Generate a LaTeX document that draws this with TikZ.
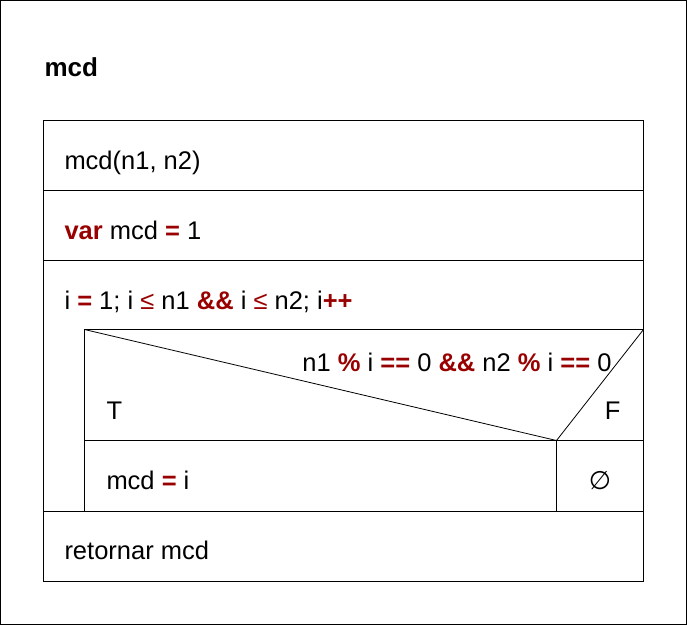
\documentclass[tikz,border=0pt]{standalone}
\usepackage{fontspec}
\setmainfont{Liberation Sans}
\newfontfamily\symfont{DejaVu Sans}
\usetikzlibrary{positioning}
\definecolor{nsred}{RGB}{153,0,0}
\newcommand{\kw}[1]{\textcolor{nsred}{\textbf{#1}}}
\newcommand{\op}[1]{\textcolor{nsred}{#1}}

\begin{document}
\begin{tikzpicture}[x=1pt,y=-1pt,line width=1pt,
    t/.style={inner sep=0pt,font=\fontsize{25.5}{30}\selectfont},
    l/.style={t,anchor=base west},
    r/.style={t,anchor=base east}]
  % frame and title
  \draw (0.5,0.5) rectangle (686.5,624.5);
  \node[l,font=\fontsize{26}{30}\selectfont\bfseries] (title) at (44,76) {mcd};
  % outer block
  \draw (43.5,120.5) rectangle (643.5,581.5);
  \draw (43.5,190.5) -- (643.5,190.5);
  \draw (43.5,260.5) -- (643.5,260.5);
  \draw (43.5,511.5) -- (643.5,511.5);
  \node[l] (head) at (64,169) {mcd(n1, n2)};
  \node[l] (decl) at (64,239) {\kw{var} mcd \kw{=} 1};
  \node[l] (loop) at (64,309)
    {i \kw{=} 1; i \op{≤} n1 \kw{\&\&} i \op{≤} n2; i\kw{++}};
  % loop body with the if block
  \draw (84.5,511.5) -- (84.5,329.5) -- (643.5,329.5);
  \draw (84.5,440.5) -- (643.5,440.5);
  \draw (556.5,440.5) -- (556.5,511.5);
  \draw[line width=0.8pt] (84.5,329.5) -- (556.5,440.5) -- (643.5,329.5);
  \node[r] (cond) at (612,371)
    {n1 \kw{\%} i \kw{==} 0 \kw{\&\&} n2 \kw{\%} i \kw{==} 0};
  \node[l] (yes) at (106,419) {T};
  \node[r] (no) at (621,419) {F};
  \node[l] (assign) at (106,489) {mcd \kw{=} i};
  \node[t,anchor=base] (empty) at (600,489) {\symfont ∅};
  \node[l] (ret) at (64,559) {retornar mcd};
\end{tikzpicture}
\end{document}
